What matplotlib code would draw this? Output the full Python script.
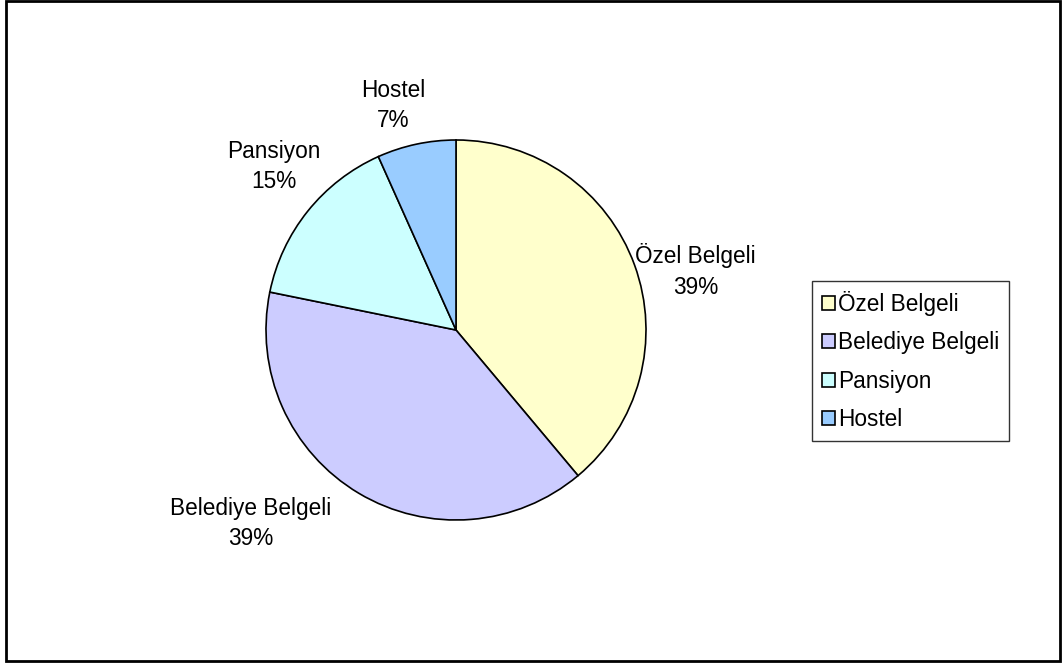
import numpy as np
import matplotlib
matplotlib.use('Agg')
from matplotlib import pyplot as plt
from matplotlib.patches import Rectangle

plt.rcParams['font.family'] = ['Liberation Sans', 'DejaVu Sans']

# data
categories = ['Özel Belgeli', 'Belediye Belgeli', 'Pansiyon', 'Hostel']
values = [38.9, 39.3, 15.1, 6.7]
colors = ['#FFFFCC', '#CCCCFF', '#CCFFFF', '#99CCFF']

fig = plt.figure(figsize=(10.62, 6.66), dpi=100)

# outer chart frame
fig.patches.append(Rectangle((6 / 1062, 5 / 666), 1054 / 1062, 660 / 666,
                             transform=fig.transFigure, fill=False,
                             edgecolor='black', linewidth=2))

ax = fig.add_axes([266 / 1062, 146 / 666, 380 / 1062, 380 / 666])
wedges, _ = ax.pie(values, colors=colors, startangle=90, counterclock=False,
                   wedgeprops=dict(edgecolor='black', linewidth=1.2))
ax.set_xlim(-1, 1)
ax.set_ylim(-1, 1)
ax.set_aspect('equal')

# label positions (data coords, radius = 1)
label_pos = [(1.26, 0.31), (-1.08, -1.02), (-0.96, 0.86), (-0.33, 1.18)]
total = sum(values)
for name, v, (x, y) in zip(categories, values, label_pos):
    ax.text(x, y, '%s\n%d%%' % (name, round(v / total * 100)),
            ha='center', va='center', fontsize=16.3, linespacing=1.4,
            clip_on=False)

leg = fig.legend(wedges, categories, loc='center left',
                 bbox_to_anchor=(812 / 1062, 1 - 361 / 666),
                 fontsize=16.3, frameon=True, fancybox=False,
                 handlelength=0.55, handleheight=0.55, handletextpad=0.15,
                 labelspacing=0.68, borderpad=0.45, borderaxespad=0)
leg.get_frame().set_edgecolor('black')
leg.get_frame().set_linewidth(1)

fig.savefig('out.png', dpi=100)
